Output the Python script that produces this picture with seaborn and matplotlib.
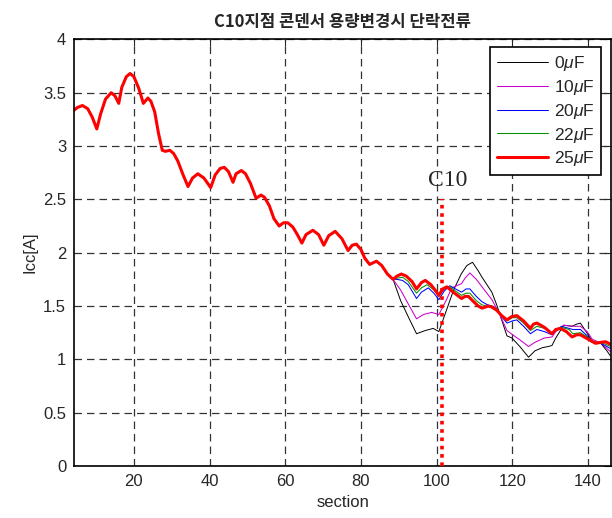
import numpy as np
import pandas as pd
import matplotlib
matplotlib.use("Agg")
import matplotlib.pyplot as plt
import seaborn as sns

# ---- data ----
# common part (all capacitances identical up to ~88.5)
base_x = [4, 5, 6.4, 7.8, 9, 10.2, 11.2, 12.5, 14, 15, 16, 16.8, 18, 19, 20, 21.3, 22.5, 23.7, 24.5,
          25.5, 26.5, 27.5, 28.3, 29.5, 30.5, 31.6, 33, 34.3, 35.5, 36.9, 38.5, 40.3, 41.5, 42.8, 43.9,
          45, 46.2, 47, 48.4, 49.5, 50.8, 52.3, 53.6, 54.5, 55.8, 57, 58.4, 59.5, 60.7, 62, 63.2, 64.4,
          65.5, 67.3, 68.8, 70.2, 71.5, 73.2, 75, 76.6, 77.7, 78.8, 80, 81, 82.3, 84.1, 85.5, 87, 88.5]
base_y = [3.33, 3.36, 3.38, 3.35, 3.27, 3.16, 3.30, 3.44, 3.50, 3.47, 3.40, 3.55, 3.65, 3.68, 3.65, 3.54, 3.40, 3.45, 3.42,
          3.32, 3.12, 2.96, 2.95, 2.96, 2.93, 2.86, 2.73, 2.62, 2.70, 2.74, 2.70, 2.61, 2.73, 2.79, 2.80,
          2.76, 2.66, 2.74, 2.77, 2.74, 2.65, 2.51, 2.54, 2.52, 2.44, 2.32, 2.25, 2.28, 2.28, 2.24, 2.17, 2.09,
          2.17, 2.21, 2.17, 2.07, 2.16, 2.20, 2.13, 2.02, 2.07, 2.08, 2.03, 1.95, 1.89, 1.92, 1.88, 1.80, 1.75]

# tails after divergence
x0 = [90.5, 92.5, 94.7, 97, 99.1, 100.6, 102.5, 104.5, 106.5, 108, 109.5, 111, 112, 113.3, 114.6, 116,
      117.2, 118.6, 119.9, 122, 124.3, 126, 128, 129.5, 130.5, 131.5, 133.6, 135.8, 137, 138, 139.5,
      141.1, 143.4, 145, 146]
y0 = [1.55, 1.40, 1.24, 1.27, 1.29, 1.26, 1.45, 1.65, 1.80, 1.88, 1.91, 1.83, 1.77, 1.70, 1.63, 1.50,
      1.37, 1.22, 1.20, 1.12, 1.02, 1.08, 1.11, 1.12, 1.13, 1.20, 1.32, 1.31, 1.33, 1.34, 1.26,
      1.17, 1.15, 1.08, 1.03]

x10 = [90.5, 92.5, 94.7, 96.5, 98.7, 100.6, 102.5, 104, 106.6, 107.5, 108.8, 110.5, 112, 114.6, 116,
       117.2, 118.6, 120.5, 122.5, 124.3, 126, 128.5, 130.5, 131.5, 133.6, 136, 138, 139.8, 141.1,
       143.5, 146]
y10 = [1.65, 1.52, 1.38, 1.42, 1.44, 1.42, 1.55, 1.67, 1.71, 1.76, 1.81, 1.75, 1.68, 1.56, 1.47,
       1.38, 1.27, 1.22, 1.17, 1.12, 1.16, 1.20, 1.21, 1.26, 1.32, 1.31, 1.31, 1.26, 1.19,
       1.15, 1.07]

x20 = [89.5, 91, 92.5, 93.7, 94.7, 96, 97.8, 99.3, 100.6, 102, 103.5, 105, 106.6, 107.8, 108.8, 110.5,
       112, 113.5, 114.6, 116, 117.2, 118.6, 120, 121.2, 123, 124.8, 126.5, 128.5, 130.5, 131.5, 133,
       135, 136, 138, 139.8, 141.1, 143.5, 146]
y20 = [1.75, 1.74, 1.70, 1.63, 1.57, 1.63, 1.67, 1.62, 1.56, 1.64, 1.69, 1.66, 1.63, 1.66, 1.66, 1.59,
       1.54, 1.51, 1.50, 1.47, 1.40, 1.34, 1.36, 1.37, 1.31, 1.24, 1.28, 1.26, 1.23, 1.27, 1.31,
       1.29, 1.28, 1.28, 1.22, 1.16, 1.15, 1.10]

x22 = [89.5, 91, 92.5, 93.7, 94.7, 96, 97.5, 99.3, 100.6, 102, 103.5, 105, 106.6, 107.8, 108.8, 110.5,
       112, 113.7, 114.6, 116, 117.2, 118.6, 120, 121.2, 123, 124.8, 126.5, 128.5, 130.5, 131.5, 133,
       135, 136, 138, 139.8, 141.1, 143.5, 146]
y22 = [1.76, 1.77, 1.73, 1.67, 1.62, 1.67, 1.70, 1.65, 1.59, 1.66, 1.68, 1.64, 1.60, 1.62, 1.62, 1.55,
       1.51, 1.50, 1.49, 1.47, 1.41, 1.36, 1.39, 1.39, 1.34, 1.27, 1.31, 1.29, 1.24, 1.28, 1.30,
       1.28, 1.24, 1.25, 1.21, 1.16, 1.16, 1.12]

x25 = [89.5, 90.7, 92, 93.5, 94.7, 96, 97, 98.5, 99.6, 100.6, 101.6, 102.7, 104.4, 105.5, 106.6, 107.5,
       108.4, 109.8, 111, 112, 113.7, 114.6, 115.9, 117.2, 118.6, 119.8, 121.2, 123, 124.8, 125.6, 126.5,
       128.5, 130.5, 131.5, 132.7, 134.3, 135.8, 137, 138, 140, 142, 143.5, 144.7, 146]
y25 = [1.78, 1.80, 1.78, 1.73, 1.66, 1.72, 1.74, 1.70, 1.65, 1.60, 1.66, 1.68, 1.63, 1.60, 1.57, 1.59,
       1.59, 1.54, 1.50, 1.48, 1.50, 1.49, 1.46, 1.41, 1.37, 1.40, 1.41, 1.36, 1.29, 1.33, 1.34,
       1.30, 1.24, 1.28, 1.29, 1.26, 1.21, 1.23, 1.23, 1.19, 1.15, 1.16, 1.165, 1.14]

labels = ["0$\\mu$F", "10$\\mu$F", "20$\\mu$F", "22$\\mu$F", "25$\\mu$F"]
tails = [(x0, y0), (x10, y10), (x20, y20), (x22, y22), (x25, y25)]
colors = ["black", "#cc00cc", "#0000ff", "#009000", "#ff0000"]
widths = [0.7, 0.75, 0.75, 0.75, 2.2]

marker_x = 101.5
marker_top = 2.5
marker_text = "C10"
title = "C10지점 콘덴서 용량변경시 단락전류"
xticks = [20, 40, 60, 80, 100, 120, 140]
yticks = [0, 0.5, 1, 1.5, 2, 2.5, 3, 3.5, 4]
ytick_labels = ["0", "0.5", "1", "1.5", "2", "2.5", "3", "3.5", "4"]

# ---- plot ----
sns.set_style("white")
plt.rcParams['font.family'] = ['Liberation Sans', 'Noto Sans CJK KR', 'DejaVu Sans']
plt.rcParams['mathtext.fontset'] = 'custom'
plt.rcParams['mathtext.it'] = 'Liberation Sans:italic'

fig = plt.figure(figsize=(6.12, 5.18), dpi=100)
ax = fig.add_axes([0.1217, 0.1004, 0.8767, 0.8236])

for lab, (tx, ty), c, w in zip(labels, tails, colors, widths):
    df = pd.DataFrame({"section": base_x + tx, "Icc": base_y + ty})
    sns.lineplot(data=df, x="section", y="Icc", ax=ax, color=c, linewidth=w,
                 label=lab, sort=False, estimator=None)

ax.plot([marker_x, marker_x], [0, marker_top], color="red", linestyle=(0, (1, 1.3)), linewidth=2.6, zorder=5)
ax.text(marker_x + 1.4, marker_top + 0.08, marker_text, family="Liberation Serif", fontsize=17,
        ha="center", va="bottom")

ax.set_xlim(4.3, 146.1)
ax.set_ylim(0, 4)
ax.set_xticks(xticks)
ax.set_yticks(yticks)
ax.set_yticklabels(ytick_labels)
ax.tick_params(direction="in", length=5, width=0.8, labelsize=12, top=True, right=True,
               labeltop=False, labelright=False, pad=6)
ax.grid(True, color="0.2", linestyle=(0, (6, 4)), linewidth=0.9)
for s in ax.spines.values():
    s.set_color("black")
    s.set_linewidth(1.2)

ax.set_xlabel("section", fontsize=12)
ax.set_ylabel("Icc[A]", fontsize=12)
ax.set_title(title, fontsize=12, fontweight="bold", family=["Noto Sans CJK KR", "DejaVu Sans"], pad=9)

leg = ax.legend(loc="upper right", fontsize=12.5, frameon=True, fancybox=False, edgecolor="black",
                framealpha=1, handlelength=2.9, handletextpad=0.35, labelspacing=0.28,
                borderpad=0.4, borderaxespad=0, bbox_to_anchor=(0.982, 0.982))
leg.get_frame().set_linewidth(1.2)

fig.savefig("out.png", dpi=100)
